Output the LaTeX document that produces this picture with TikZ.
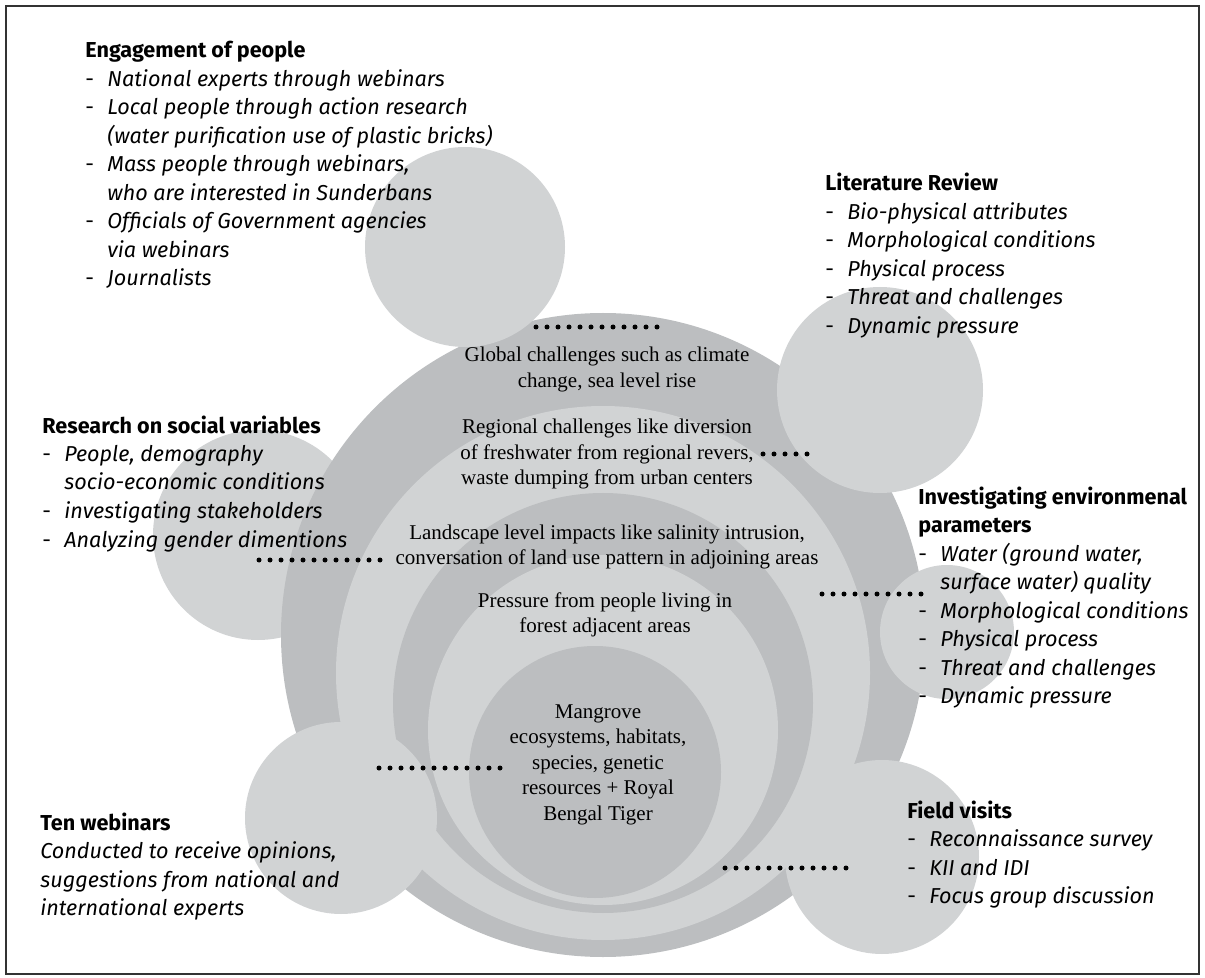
\documentclass[tikz,border=0pt]{standalone}
\usepackage{fontspec}
\setmainfont{Liberation Serif}
\setsansfont{Fira Sans}
\definecolor{ringdark}{RGB}{188,190,192}
\definecolor{ringlight}{RGB}{209,211,212}
\newcommand{\itm}{\makebox[11pt][l]{-}}
\newcommand{\ind}{\hspace*{11pt}}
\begin{document}
\begin{tikzpicture}[x=0.5pt,y=-0.5pt,
    block/.style={anchor=base west,align=left,inner sep=0pt,font=\sffamily\fontsize{10.8}{14.25}\selectfont},
    ringtext/.style={anchor=base,align=center,inner sep=0pt,font=\fontsize{10.5}{12.75}\selectfont},
    dotline/.style={line width=2.5pt,line cap=round,dash pattern=on 0pt off 5.5pt}]
  \useasboundingbox (0,0) rectangle (1205,978);
  \draw[line width=0.8pt,black!80] (6,6) rectangle (1199,974);
  % circle behind the rings
  \fill[ringlight] (258,535) circle [radius=105];
  % rings
  \fill[ringdark] (603,635) circle [radius=322];
  \fill[ringlight] (603,673) circle [radius=267];
  \fill[ringdark] (603,703) circle [radius=210];
  \fill[ringlight] (603,730) circle [radius=175];
  \fill[ringdark] (595,772) circle [radius=126];
  % circles in front
  \fill[ringlight] (465,247) circle [radius=100];
  \fill[ringlight] (880,390) circle [radius=103];
  \fill[ringlight] (947,632) circle [radius=67];
  \fill[ringlight] (341,818) circle [radius=96];
  \fill[ringlight] (882,857) circle [radius=97];
  % ring texts (placed at the baseline of the last line)
  \node[ringtext] (global) at (607,387.5) {Global challenges such as climate\\change, sea level rise};
  \node[ringtext] (regional) at (607,485) {Regional challenges like diversion\\of freshwater from regional revers,\\waste dumping from urban centers};
  \node[ringtext] (landscape) at (607,564.5) {Landscape level impacts like salinity intrusion,\\conversation of land use pattern in adjoining areas};
  \node[ringtext] (pressure) at (605,632.5) {Pressure from people living in\\forest adjacent areas};
  \node[ringtext] (mangrove) at (598,820) {Mangrove\\ecosystems, habitats,\\species, genetic\\resources + Royal\\Bengal Tiger};
  % outer texts
  \node[block] (engage) at (85,286) {\textbf{Engagement of people}\\
    \itm\textit{National experts through webinars}\\
    \itm\textit{Local people through action research}\\
    \ind\textit{(water purification use of plastic bricks)}\\
    \itm\textit{Mass people through webinars,}\\
    \ind\textit{who are interested in Sunderbans}\\
    \itm\textit{Officials of Government agencies}\\
    \ind\textit{via webinars}\\
    \itm\textit{Journalists}};
  \node[block] (litrev) at (825,333.5) {\textbf{Literature Review}\\
    \itm\textit{Bio-physical attributes}\\
    \itm\textit{Morphological conditions}\\
    \itm\textit{Physical process}\\
    \itm\textit{Threat and challenges}\\
    \itm\textit{Dynamic pressure}};
  \node[block] (social) at (42,547) {\textbf{Research on social variables}\\
    \itm\textit{People, demography}\\
    \ind\textit{socio-economic conditions}\\
    \itm\textit{investigating stakeholders}\\
    \itm\textit{Analyzing gender dimentions}};
  \node[block] (envpar) at (918,703.5) {\textbf{Investigating environmenal}\\
    \textbf{parameters}\\
    \itm\textit{Water (ground water,}\\
    \ind\textit{surface water) quality}\\
    \itm\textit{Morphological conditions}\\
    \itm\textit{Physical process}\\
    \itm\textit{Threat and challenges}\\
    \itm\textit{Dynamic pressure}};
  \node[block] (webinars) at (40,915.5) {\textbf{Ten webinars}\\
    \textit{Conducted to receive opinions,}\\
    \textit{suggestions from national and}\\
    \textit{international experts}};
  \node[block] (field) at (907,903.5) {\textbf{Field visits}\\
    \itm\textit{Reconnaissance survey}\\
    \itm\textit{KII and IDI}\\
    \itm\textit{Focus group discussion}};
  % dotted leaders
  \coordinate (topA) at (536,327);  \coordinate (topB) at (658,327);
  \coordinate (regA) at (763,454);  \coordinate (regB) at (817,454);
  \coordinate (socA) at (259,560);  \coordinate (socB) at (384,560);
  \coordinate (envA) at (822,594);  \coordinate (envB) at (922,594);
  \coordinate (mgA) at (379,768);   \coordinate (mgB) at (502,768);
  \coordinate (fldA) at (725,868);  \coordinate (fldB) at (848,868);
  \draw[dotline] (topA) -- (topB);
  \draw[dotline] (regA) -- (regB);
  \draw[dotline] (socA) -- (socB);
  \draw[dotline] (envA) -- (envB);
  \draw[dotline] (mgA) -- (mgB);
  \draw[dotline] (fldA) -- (fldB);
\end{tikzpicture}
\end{document}
